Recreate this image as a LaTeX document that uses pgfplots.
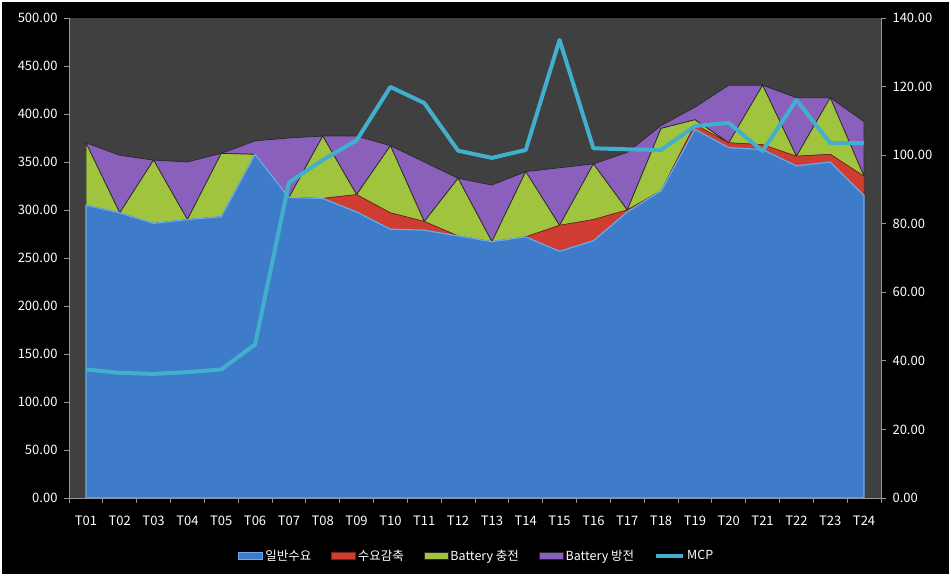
\documentclass[border=0pt]{standalone}
\usepackage{fontspec}
\setmainfont{Noto Sans CJK KR}
\usepackage{pgfplots}
\usepackage{pgfplotstable}
\pgfplotsset{compat=1.18}

\definecolor{bgplot}{RGB}{64,64,64}
\definecolor{axisgray}{RGB}{150,150,150}
\definecolor{cgrid}{RGB}{175,175,175}
\definecolor{cblue}{RGB}{62,123,201}
\definecolor{cblueedge}{RGB}{105,172,238}
\definecolor{cred}{RGB}{206,60,50}
\definecolor{credge}{RGB}{120,30,25}
\definecolor{cgreen}{RGB}{160,196,62}
\definecolor{cpurple}{RGB}{138,96,188}
\definecolor{cedge}{RGB}{40,40,40}
\definecolor{cmcp}{RGB}{66,176,204}

\pgfplotsset{
  arealegend/.style={legend image code/.code={\fill[##1] (0pt,-3.5pt) rectangle (24pt,3.5pt);}},
  linelegend/.style={legend image code/.code={\draw[##1] (0pt,0pt) -- (27pt,0pt);}},
  plotbox/.style={at={(69pt,78pt)}, anchor=south west,
    scale only axis, width=812pt, height=480pt, xmin=0.5, xmax=24.5},
}

% t, 일반수요, 수요감축, Battery 충전, Battery 방전, MCP
\pgfplotstableread{
t blue red green purple mcp
1  305 0  65 0  37.5
2  297 0  0  60 36.5
3  286 0  66 0  36.2
4  290 0  0  60 36.7
5  293 0  66 0  37.5
6  358 0  0  14 44.8
7  313 0  0  62 92.0
8  312 0  65 0  98.6
9  298 18 0  61 104.3
10 280 17 70 0  119.9
11 279 9  0  62 115.2
12 273 0  60 0  101.3
13 267 0  0  59 99.2
14 272 0  68 0  101.5
15 257 27 0  60 133.6
16 268 22 58 0  102.0
17 298 2  0  60 101.7
18 320 0  65 3  101.5
19 384 5  5  13 108.5
20 365 5  0  60 109.4
21 363 5  62 0  101.2
22 346 10 0  61 116.1
23 350 8  59 0  103.5
24 315 20 0  57 103.5
}\data

\begin{document}
\begin{tikzpicture}
\fill[white] (0,0) rectangle (951pt,576pt);
\fill[black] (2pt,2pt) rectangle (949pt,574pt);

% plot background and grid, underneath the areas
\begin{axis}[
  plotbox, ymin=0, ymax=500,
  axis background/.style={fill=bgplot},
  axis lines=none,
  xtick=\empty, ytick={0,50,...,500}, yticklabels={},
  y tick style={draw=none},
  ymajorgrids, major grid style={cgrid, line width=0.5pt},
]
\addplot[draw=none] coordinates {(1,0)};
\end{axis}

\begin{axis}[
  plotbox, ymin=0, ymax=500,
  axis x line*=bottom, axis y line*=left,
  axis line style={axisgray, line width=0.8pt},
  stack plots=y, area style,
  xtick={1,...,24},
  xticklabels={T01,T02,T03,T04,T05,T06,T07,T08,T09,T10,T11,T12,T13,T14,T15,T16,T17,T18,T19,T20,T21,T22,T23,T24},
  minor xtick={0.5,1.5,...,24.5},
  major x tick style={draw=none},
  minor x tick style={axisgray, line width=0.8pt},
  ytick={0,50,...,500},
  y tick style={axisgray, line width=0.8pt},
  tick align=outside, major tick length=5pt, minor tick length=5pt,
  ticklabel style={text=white, font=\fontsize{13}{15}\selectfont},
  xticklabel style={yshift=-9pt},
  yticklabel style={xshift=-3pt},
  y tick label style={/pgf/number format/.cd, fixed, fixed zerofill, precision=2, assume math mode=true},
  legend style={draw=none, fill=none, text=white, font=\fontsize{12.5}{14}\selectfont,
    at={(0.502,-0.121)}, anchor=center, legend columns=-1,
    /tikz/every even column/.append style={column sep=18pt}},
  legend cell align=left,
]
\addplot[fill=cblue, draw=cblueedge, line width=1.2pt, arealegend] table[x=t, y=blue] {\data} \closedcycle;
\addlegendentry{일반수요}
\addplot[fill=cred, draw=credge, line width=0.5pt, arealegend] table[x=t, y=red] {\data} \closedcycle;
\addlegendentry{수요감축}
\addplot[fill=cgreen, draw=cedge, line width=0.7pt, arealegend] table[x=t, y=green] {\data} \closedcycle;
\addlegendentry{Battery 충전}
\addplot[fill=cpurple, draw=cedge, line width=0.7pt, arealegend] table[x=t, y=purple] {\data} \closedcycle;
\addlegendentry{Battery 방전}
\addlegendimage{linelegend, cmcp, line width=4pt}
\addlegendentry{MCP}
\end{axis}

\begin{axis}[
  plotbox, ymin=0, ymax=140,
  axis x line=none, axis y line*=right,
  axis line style={axisgray, line width=0.8pt},
  ytick={0,20,...,140},
  y tick style={axisgray, line width=0.8pt},
  tick align=outside, major tick length=5pt,
  ticklabel style={text=white, font=\fontsize{13}{15}\selectfont},
  yticklabel style={xshift=3pt},
  y tick label style={/pgf/number format/.cd, fixed, fixed zerofill, precision=2, assume math mode=true},
]
\addplot[cmcp, line width=4pt, line join=round, mark=none] table[x=t, y=mcp] {\data};
\end{axis}

\pgfresetboundingbox
\path (0,0) rectangle (951pt,576pt);
\end{tikzpicture}
\end{document}
